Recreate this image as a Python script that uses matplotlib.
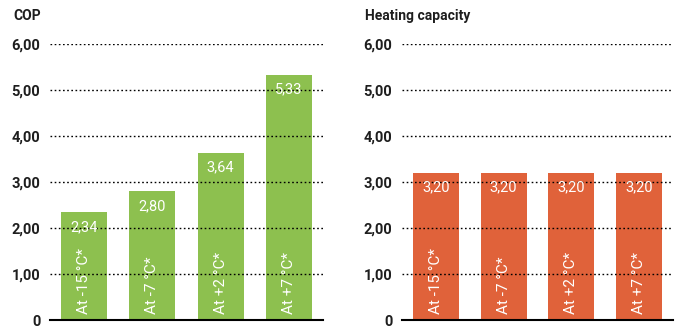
import matplotlib
matplotlib.use('Agg')
import matplotlib.pyplot as plt

plt.rcParams['font.family'] = ['Roboto', 'DejaVu Sans']

# Chart data
categories = ['At -15 °C*', 'At -7 °C*', 'At +2 °C*', 'At +7 °C*']
cop_values = [2.34, 2.80, 3.64, 5.33]
capacity_values = [3.20, 3.20, 3.20, 3.20]
tick_values = [0, 1, 2, 3, 4, 5, 6]
tick_labels = ['0', '1,00', '2,00', '3,00', '4,00', '5,00', '6,00']

green = '#8dc04f'
orange = '#e0623a'
text_dark = '#1e1e1e'

fig = plt.figure(figsize=(6.81, 3.27), dpi=100)

# Two panels, same scale
ax_left = fig.add_axes([50 / 681, 7 / 327, 273 / 681, 276 / 327])
ax_right = fig.add_axes([402 / 681, 7 / 327, 271 / 681, 276 / 327])


def draw_panel(ax, values, color):
    xs = range(len(values))
    ax.bar(xs, values, width=0.676, color=color, zorder=1)
    ax.set_xlim(-0.5, 3.5)
    ax.set_ylim(0, 6)

    # Dotted grid lines on top of the bars
    for t in tick_values[1:]:
        ax.axhline(t, color='black', linestyle=(0, (1.2, 1.8)), linewidth=1.0, zorder=3)

    for s in ['top', 'right', 'left']:
        ax.spines[s].set_visible(False)
    ax.spines['bottom'].set_linewidth(1.5)
    ax.spines['bottom'].set_zorder(4)

    ax.set_xticks([])
    ax.set_yticks(tick_values)
    ax.set_yticklabels(tick_labels, fontsize=10.5, fontweight='bold', color=text_dark)
    ax.tick_params(axis='y', length=0, pad=7)

    # Value labels and rotated category labels inside bars
    for x, v, cat in zip(xs, values, categories):
        label = ('%.2f' % v).replace('.', ',')
        ax.text(x, v - 0.32, label, ha='center', va='center',
                color='white', fontsize=10.5, zorder=5)
        ax.text(x, 0.14, cat, ha='center', va='bottom', rotation=90,
                color='white', fontsize=11, zorder=5)


draw_panel(ax_left, cop_values, green)
draw_panel(ax_right, capacity_values, orange)

fig.text(13 / 681, 1 - 16 / 327, 'COP', ha='left', va='center',
         fontsize=10, fontweight='bold', color=text_dark)
fig.text(365 / 681, 1 - 16 / 327, 'Heating capacity', ha='left', va='center',
         fontsize=10, fontweight='bold', color=text_dark)

fig.savefig('out.png', dpi=100)
